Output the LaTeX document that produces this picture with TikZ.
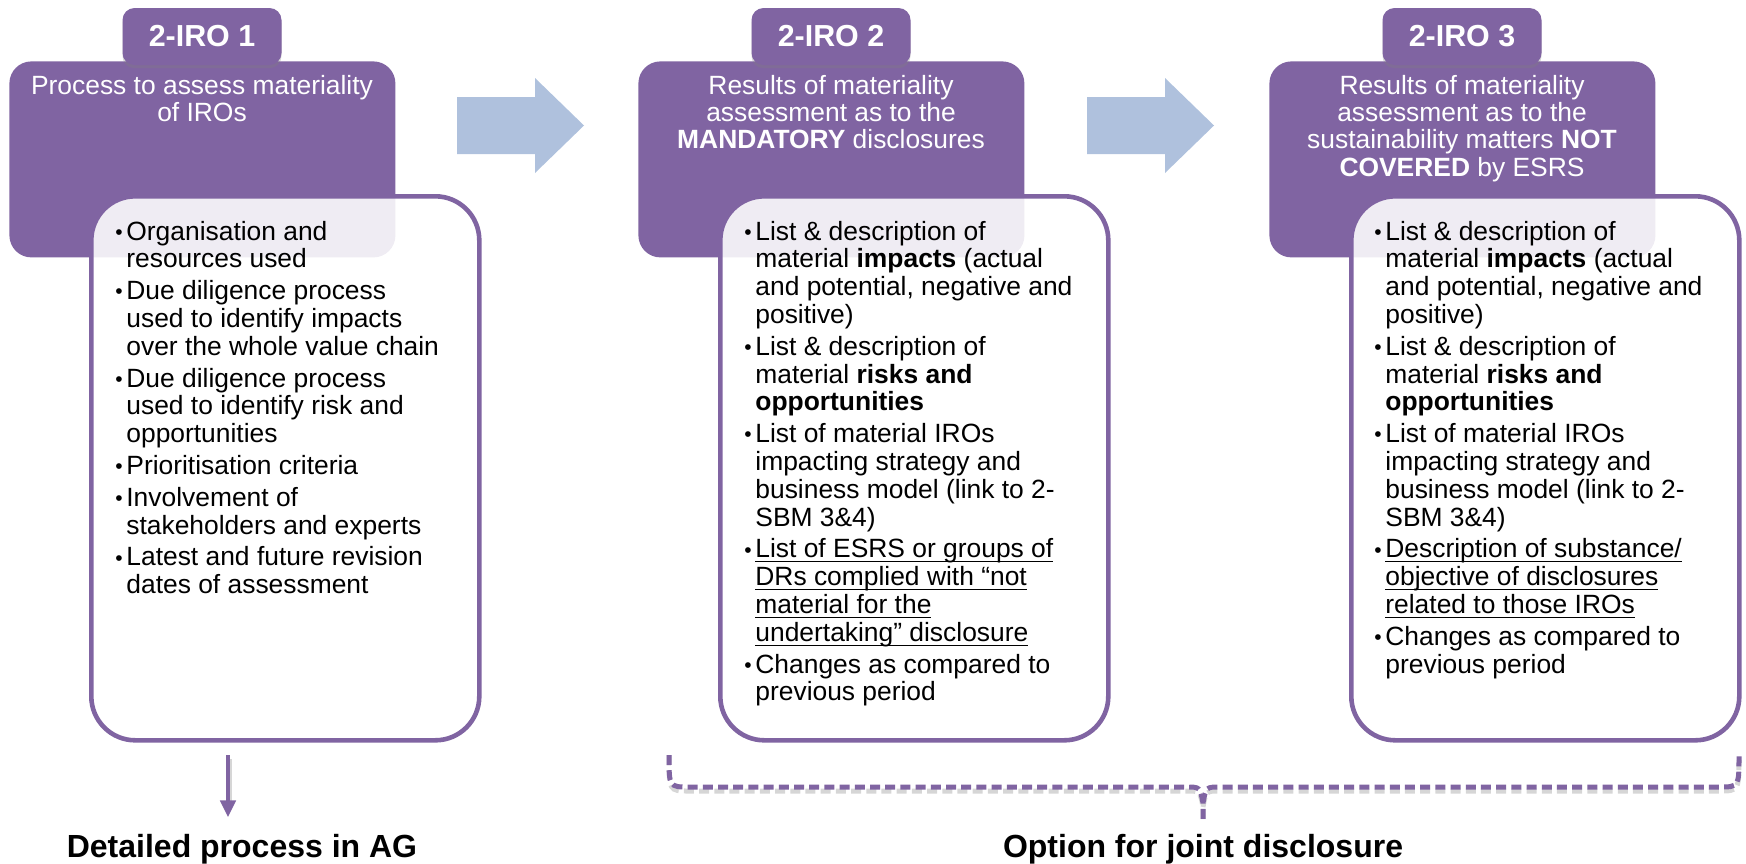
\documentclass[tikz,border=0pt]{standalone}
\usepackage{fontspec}
\setmainfont{Liberation Sans}
\usetikzlibrary{shadows,arrows.meta}

\definecolor{iropurple}{HTML}{8064A2}
\definecolor{flowblue}{RGB}{175,193,221}

% one bullet item with a hanging indent; lines are broken by hand
\newcommand\irobullet[1]{\par\hangindent=5.5pt\hangafter=1\noindent\makebox[5.5pt][l]{\raisebox{0.4pt}{\fontsize{10.5}{10.5}\selectfont\textbullet}}#1}
% underline sitting at a fixed depth below the baseline
\newcommand\irouline[1]{\setbox0\hbox{#1}\rlap{\rule[-2.3pt]{\wd0}{0.65pt}}\box0}
% body text block: first baseline is the node's base
\newcommand\irolist[1]{\parbox[t]{205pt}{\fontsize{13.2}{13.9}\selectfont\setlength\parskip{2pt}#1}}
\newcommand\irohead[1]{\parbox[t]{192pt}{\centering\fontsize{13.2}{13.7}\selectfont #1}}

\tikzset{
  headbox/.style={fill=iropurple, rounded corners=11pt, inner sep=0pt, anchor=north west},
  tabbox/.style={fill=iropurple, rounded corners=6pt, inner sep=0pt,
    minimum width=79.5pt, minimum height=28.5pt, text=white,
    font=\bfseries\fontsize{15.2}{18}\selectfont,
    drop shadow={shadow xshift=0pt, shadow yshift=-1.6pt, opacity=0.3}},
  listbox/.style={draw=iropurple, line width=2.3pt, fill=white, fill opacity=0.88,
    rounded corners=22pt, inner sep=0pt, anchor=north west,
    minimum width=194pt, minimum height=272pt},
  headtext/.style={text=white, inner sep=0pt, anchor=base},
  bodytext/.style={text=black, inner sep=0pt, anchor=base west},
  bottomlabel/.style={inner sep=0pt, anchor=base, font=\bfseries\fontsize{16}{19}\selectfont},
  flowarrow/.style={fill=flowblue},
  purpleline/.style={draw=iropurple, line width=2.1pt},
  bracedash/.style={dash pattern=on 5pt off 2.6pt, line width=2.5pt},
  softshadow/.style={draw=black, draw opacity=0.16, line width=3.2pt}
}

\begin{document}
\begin{tikzpicture}[x=0.5pt,y=-0.5pt]
\useasboundingbox (0,0) rectangle (1746,863);

% ---------- header boxes ----------
\node[headbox, minimum width=193pt, minimum height=98pt] (h1) at (9,61) {};
\node[headbox, minimum width=193pt, minimum height=98pt] (h2) at (638,61) {};
\node[headbox, minimum width=193pt, minimum height=98pt] (h3) at (1269,61) {};

% ---------- tabs ----------
\node[tabbox] (t1) at (202,36.5) {2-IRO 1};
\node[tabbox] (t2) at (831,36.5) {2-IRO 2};
\node[tabbox] (t3) at (1462,36.5) {2-IRO 3};

% ---------- header texts ----------
\node[headtext] (ht1) at (202,94) {\irohead{Process to assess materiality\\of IROs}};
\node[headtext] (ht2) at (831,94) {\irohead{Results of materiality\\assessment as to the\\\textbf{MANDATORY} disclosures}};
\node[headtext] (ht3) at (1462,94) {\irohead{Results of materiality\\assessment as to the\\sustainability matters \textbf{NOT}\\\textbf{COVERED} by ESRS}};

% ---------- list boxes ----------
\node[listbox] (w1) at (89,194) {};
\node[listbox] (w2) at (718,194) {};
\node[listbox] (w3) at (1349,194) {};

% ---------- list texts ----------
\node[bodytext] (b1) at (115,240) {\irolist{%
\irobullet{Organisation and\\resources used}
\irobullet{Due diligence process\\used to identify impacts\\over the whole value chain}
\irobullet{Due diligence process\\used to identify risk and\\opportunities}
\irobullet{Prioritisation criteria}
\irobullet{Involvement of\\stakeholders and experts}
\irobullet{Latest and future revision\\dates of assessment}}};

\node[bodytext] (b2) at (744,240) {\irolist{%
\irobullet{List \& description of\\material \textbf{impacts} (actual\\and potential, negative and\\positive)}
\irobullet{List \& description of\\material \textbf{risks and}\\\textbf{opportunities}}
\irobullet{List of material IROs\\impacting strategy and\\business model (link to 2-\\SBM 3\&4)}
\irobullet{\irouline{List of ESRS or groups of}\\\irouline{DRs complied with “not}\\\irouline{material for the}\\\irouline{undertaking” disclosure}}
\irobullet{Changes as compared to\\previous period}}};

\node[bodytext] (b3) at (1374,240) {\irolist{%
\irobullet{List \& description of\\material \textbf{impacts} (actual\\and potential, negative and\\positive)}
\irobullet{List \& description of\\material \textbf{risks and}\\\textbf{opportunities}}
\irobullet{List of material IROs\\impacting strategy and\\business model (link to 2-\\SBM 3\&4)}
\irobullet{\irouline{Description of substance/}\\\irouline{objective of disclosures}\\\irouline{related to those IROs}}
\irobullet{Changes as compared to\\previous period}}};

% ---------- block arrows between the steps ----------
\path[flowarrow] (457,97) -- (535,97) -- (535,78) -- (584,125.5) -- (535,173) -- (535,154) -- (457,154) -- cycle;
\path[flowarrow] (1087,97) -- (1165,97) -- (1165,78) -- (1214,125.5) -- (1165,173) -- (1165,154) -- (1087,154) -- cycle;

% ---------- bottom labels ----------
\node[bottomlabel] (lab1) at (242,857) {Detailed process in AG};
\node[bottomlabel] (lab2) at (1203,857) {Option for joint disclosure};

% ---------- arrow down to the first label ----------
\coordinate (a1s) at (228,755);
\draw[softshadow, shorten >=16pt, line width=2pt] ([shift={(2,4)}]a1s) -- ([shift={(2,4)}]a1s |- lab1.north);
\draw[purpleline, shorten >=8pt, -{Triangle[width=7.5pt,length=8.5pt]}] (a1s) -- (a1s |- lab1.north);

% ---------- dashed brace over steps 2 and 3 ----------
\coordinate (brl) at (669,755);
\coordinate (brr) at (1739,755);
\coordinate (brm) at (1203,820);
\foreach \sty/\dy in {softshadow/4, purpleline/0}{
  \draw[\sty, bracedash, yshift=-\dy*0.5pt]
    (brl) .. controls (669,787) .. (689,787) -- (1186,787)
    .. controls (1200,787) .. (1203,803) -- (brm)
    (1203,803) .. controls (1206,787) .. (1220,787) -- (1719,787)
    .. controls (1739,787) .. (brr);
}
\end{tikzpicture}
\end{document}
